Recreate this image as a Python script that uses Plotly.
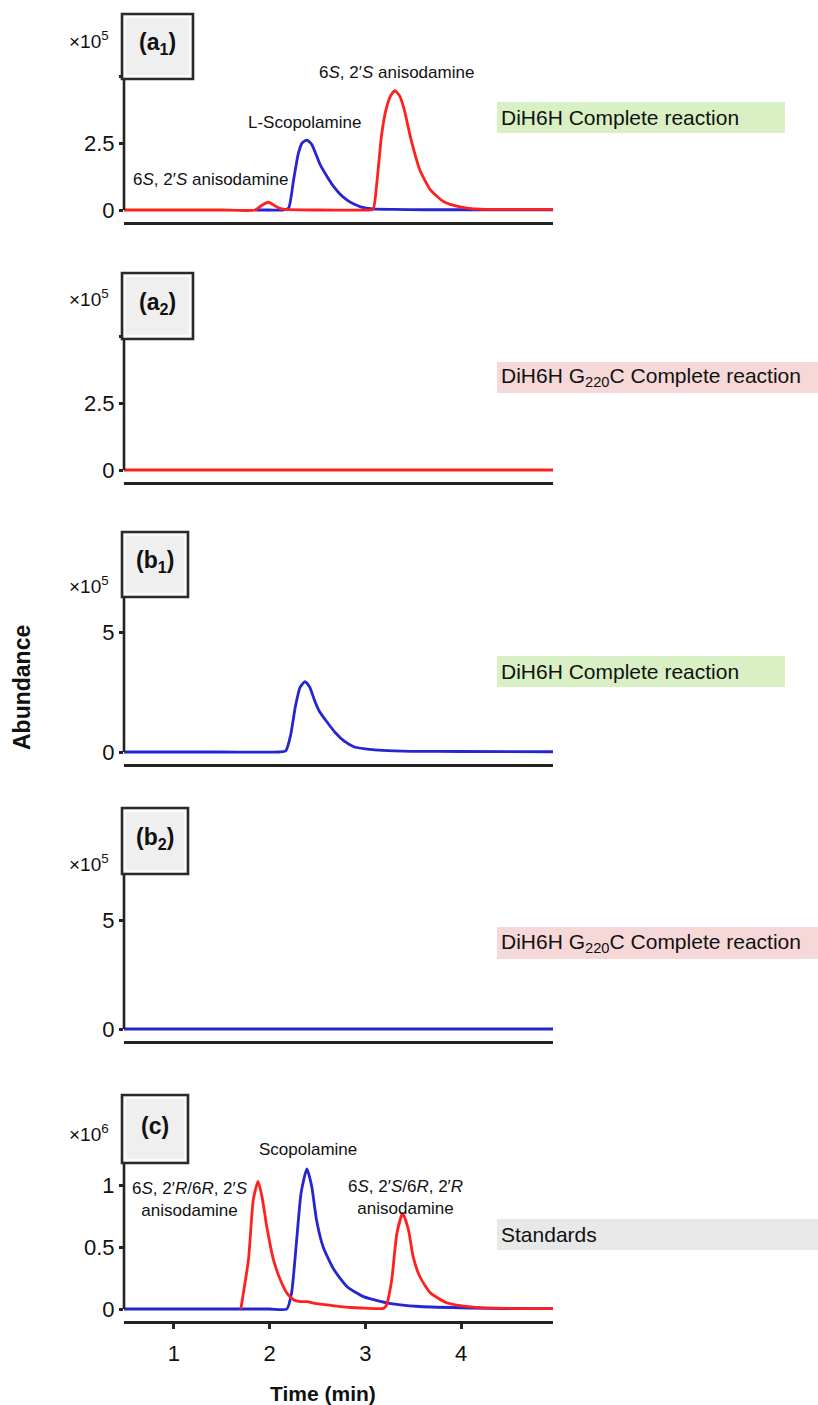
import plotly.graph_objects as go

# ---------------- data (abundance in axis units: x10^5 for a/b panels, x10^6 for c) ----------------
a1_blue_t = [1.85, 2.0, 2.15, 2.20, 2.25, 2.30, 2.34, 2.39, 2.44, 2.53, 2.60, 2.67, 2.74, 2.81, 2.88, 2.95, 3.08, 3.3, 3.6, 4.0, 4.5, 4.96]
a1_blue_y = [0, 0, 0, 0.08, 1.1, 2.1, 2.5, 2.61, 2.45, 1.68, 1.25, 0.87, 0.58, 0.37, 0.22, 0.12, 0.04, 0.02, 0.01, 0.01, 0.01, 0.01]
a1_red_t = [0.48, 1.0, 1.5, 1.85, 1.92, 1.99, 2.05, 2.10, 2.16, 2.5, 3.0, 3.08, 3.12, 3.17, 3.22, 3.27, 3.31, 3.36, 3.41, 3.47, 3.57, 3.68, 3.82, 3.99, 4.2, 4.5, 4.96]
a1_red_y = [0, 0, 0, 0, 0.18, 0.29, 0.17, 0.07, 0.02, 0, 0, 0.02, 1.0, 2.8, 3.8, 4.3, 4.45, 4.25, 3.7, 2.74, 1.49, 0.75, 0.31, 0.12, 0.03, 0.02, 0.02]

a2_red_t = [0.48, 4.96]
a2_red_y = [0, 0]

b1_blue_t = [0.48, 1.5, 2.1, 2.17, 2.22, 2.27, 2.32, 2.37, 2.42, 2.47, 2.52, 2.60, 2.69, 2.78, 2.88, 3.0, 3.10, 3.3, 3.48, 4.0, 4.96]
b1_blue_y = [0, 0, 0, 0.05, 0.7, 1.9, 2.7, 2.93, 2.7, 2.15, 1.7, 1.25, 0.79, 0.45, 0.22, 0.13, 0.09, 0.05, 0.03, 0.02, 0.01]

b2_blue_t = [0.48, 4.96]
b2_blue_y = [0, 0]

c_blue_t = [0.48, 1.0, 1.5, 2.0, 2.18, 2.23, 2.28, 2.33, 2.39, 2.44, 2.49, 2.56, 2.67, 2.81, 2.98, 3.22, 3.57, 4.10, 4.5, 4.96]
c_blue_y = [0, 0, 0, 0, 0.0, 0.13, 0.53, 0.94, 1.13, 0.99, 0.72, 0.50, 0.32, 0.18, 0.10, 0.05, 0.02, 0.008, 0.004, 0.003]
c_red_t = [1.70, 1.78, 1.83, 1.88, 1.92, 1.97, 2.04, 2.11, 2.18, 2.25, 2.32, 2.39, 2.45, 2.53, 2.64, 2.74, 2.85, 2.95, 3.19,
           3.22, 3.25, 3.28, 3.33, 3.39, 3.45, 3.50, 3.57, 3.68, 3.85, 4.13, 4.5, 4.96]
c_red_y = [0.0, 0.40, 0.88, 1.03, 0.91, 0.67, 0.40, 0.24, 0.13, 0.075, 0.06, 0.06, 0.05, 0.04, 0.03, 0.02, 0.012, 0.008, 0.005,
           0.03, 0.12, 0.26, 0.61, 0.77, 0.64, 0.42, 0.26, 0.13, 0.05, 0.015, 0.005, 0.003]

panel_tags = ["(a<sub>1</sub>)", "(a<sub>2</sub>)", "(b<sub>1</sub>)", "(b<sub>2</sub>)", "(c)"]
panel_scales = ["×10<sup>5</sup>", "×10<sup>5</sup>", "×10<sup>5</sup>", "×10<sup>5</sup>", "×10<sup>6</sup>"]
panel_conditions = ["DiH6H Complete reaction", "DiH6H G<sub>220</sub>C Complete reaction",
                    "DiH6H Complete reaction", "DiH6H G<sub>220</sub>C Complete reaction", "Standards"]
y_tickvals = [[0, 2.5, 5], [0, 2.5, 5], [0, 5], [0, 5], [0, 0.5, 1]]
y_ticktext = [["0", "2.5", ""], ["0", "2.5", ""], ["0", "5"], ["0", "5"], ["0", "0.5", "1"]]
x_tickvals = [1, 2, 3, 4]
x_ticktext = ["1", "2", "3", "4"]
x_title = "Time (min)"
y_title = "Abundance"

# (panel, time, abundance, upward px shift, text)
peak_labels = [
    (0, 1.38, 1.12, 0, "6<i>S</i>, 2′<i>S</i> anisodamine"),
    (0, 2.37, 3.28, 0, "L-Scopolamine"),
    (0, 3.33, 5.0, 3, "6<i>S</i>, 2′<i>S</i> anisodamine"),
    (4, 1.17, 0.88, 0, "6<i>S</i>, 2′<i>R</i>/6<i>R</i>, 2′<i>S</i><br>anisodamine"),
    (4, 2.40, 1.17, 14, "Scopolamine"),
    (4, 3.42, 0.90, 0, "6<i>S</i>, 2′<i>S</i>/6<i>R</i>, 2′<i>R</i><br>anisodamine"),
]

# ---------------- layout geometry (pixels) ----------------
W, H = 818, 1405
FONT = "Liberation Sans, Arial, sans-serif"
RED = "#ff2020"
BLUE = "#2626d0"
AX = "#232323"
X_LEFT, X_RIGHT = 124, 553
X_RANGE = [0.48, 4.96]
# zero pixel, px per unit, top value, bottom axis pixel
geo = [
    (210, 26.8, 5.0, 222),
    (470, 26.8, 5.0, 482),
    (752, 24.0, 6.5, 764),
    (1029, 21.7, 7.1, 1041),
    (1309, 124.0, 1.17, 1321),
]
tag_boxes = [(122, 14, 193, 79), (122, 273, 193, 339), (122, 532, 188, 597), (122, 808, 188, 874), (122, 1095, 188, 1163)]
scale_y = [40, 298, 585, 863, 1133]
cond_boxes = [(497, 102, 785, 133, "#d8f0c4"), (497, 362, 818, 393, "#f6d8d8"), (497, 656, 785, 687, "#d8f0c4"),
              (497, 927, 818, 959, "#f6d8d8"), (497, 1219, 818, 1250, "#e8e8e8")]

series = [
    [(a1_blue_t, a1_blue_y, BLUE), (a1_red_t, a1_red_y, RED)],
    [(a2_red_t, a2_red_y, RED)],
    [(b1_blue_t, b1_blue_y, BLUE)],
    [(b2_blue_t, b2_blue_y, BLUE)],
    [(c_blue_t, c_blue_y, BLUE), (c_red_t, c_red_y, RED)],
]


def px(x):
    return x / W


def py(y):
    return 1 - y / H


fig = go.Figure()
shapes = []
annotations = []

for i in range(5):
    n = "" if i == 0 else str(i + 1)
    xa, ya = "x" + n, "y" + n
    zero, ppu, hi, bot = geo[i]
    lo = -(bot - zero) / ppu
    top_px = zero - hi * ppu
    for t, v, col in series[i]:
        fig.add_trace(go.Scatter(x=t, y=v, mode="lines", xaxis=xa, yaxis=ya, showlegend=False,
                                 line=dict(color=col, width=2.8, shape="spline", smoothing=0.55),
                                 cliponaxis=False, hoverinfo="skip"))
    fig.update_layout(**{
        "xaxis" + n: dict(domain=[px(X_LEFT), px(X_RIGHT)], range=X_RANGE, anchor=ya,
                          showline=True, linecolor=AX, linewidth=3, showgrid=False, zeroline=False,
                          tickvals=x_tickvals if i == 4 else [], ticktext=x_ticktext if i == 4 else [],
                          ticks="outside" if i == 4 else "", ticklen=5, tickwidth=2.5, tickcolor=AX,
                          ticklabelstandoff=6,
                          tickfont=dict(family=FONT, size=22, color="#111")),
        "yaxis" + n: dict(domain=[py(bot), py(top_px)], range=[lo, hi], anchor=xa,
                          showline=False, showgrid=False, zeroline=False,
                          tickvals=y_tickvals[i], ticktext=y_ticktext[i],
                          ticks="outside", ticklen=4, tickwidth=2.5, tickcolor=AX,
                          tickfont=dict(family=FONT, size=22, color="#111")),
    })
    # y axis line from 0 to top
    shapes.append(dict(type="line", xref=xa + " domain", yref=ya, x0=0, x1=0, y0=0, y1=hi,
                       line=dict(color=AX, width=2.6), layer="above"))
    # tag box
    bx0, by0, bx1, by1 = tag_boxes[i]
    shapes.append(dict(type="rect", xref="paper", yref="paper", x0=px(bx0), x1=px(bx1), y0=py(by1), y1=py(by0),
                       fillcolor="#efefef", line=dict(color="#2a2a2a", width=2.6), layer="above"))
    shapes.append(dict(type="rect", xref="paper", yref="paper", x0=px(bx0 + 3), x1=px(bx1 - 3), y0=py(by1 - 3), y1=py(by0 + 3),
                       fillcolor="rgba(0,0,0,0)", line=dict(color="#ffffff", width=1.5), layer="above"))
    annotations.append(dict(xref="paper", yref="paper", x=px((bx0 + bx1) / 2), y=py((by0 + by1) / 2 - 3),
                            text="<b>" + panel_tags[i] + "</b>", showarrow=False, xanchor="center", yanchor="middle",
                            font=dict(family=FONT, size=23, color="#111")))
    # scale label
    annotations.append(dict(xref="paper", yref="paper", x=px(111), y=py(scale_y[i]), text=panel_scales[i],
                            showarrow=False, xanchor="right", yanchor="middle",
                            font=dict(family=FONT, size=19, color="#111")))
    # condition label
    cx0, cy0, cx1, cy1, cc = cond_boxes[i]
    shapes.append(dict(type="rect", xref="paper", yref="paper", x0=px(cx0), x1=px(cx1), y0=py(cy1), y1=py(cy0),
                       fillcolor=cc, line=dict(width=0), layer="below"))
    annotations.append(dict(xref="paper", yref="paper", x=px(cx0 + 2), y=py((cy0 + cy1) / 2), text=panel_conditions[i],
                            showarrow=False, xanchor="left", yanchor="middle",
                            font=dict(family=FONT, size=21, color="#111")))

for pi, xv, yv, shift, txt in peak_labels:
    n = "" if pi == 0 else str(pi + 1)
    annotations.append(dict(xref="x" + n, yref="y" + n, x=xv, y=yv, yshift=shift, text=txt, showarrow=False,
                            xanchor="center", yanchor="middle",
                            font=dict(family=FONT, size=17, color="#111")))

annotations.append(dict(xref="paper", yref="paper", x=px(22), y=py(688), text="<b>" + y_title + "</b>", textangle=-90,
                        showarrow=False, xanchor="center", yanchor="middle",
                        font=dict(family=FONT, size=23, color="#111")))
annotations.append(dict(xref="paper", yref="paper", x=px(323), y=py(1393), text="<b>" + x_title + "</b>",
                        showarrow=False, xanchor="center", yanchor="middle",
                        font=dict(family=FONT, size=21, color="#111")))

fig.update_layout(width=W, height=H, margin=dict(l=0, r=0, t=0, b=0),
                  paper_bgcolor="white", plot_bgcolor="white",
                  shapes=shapes, annotations=annotations, showlegend=False)

fig.write_html("out.html", config={"displayModeBar": False},
               post_script="document.body.style.margin='0px';")
